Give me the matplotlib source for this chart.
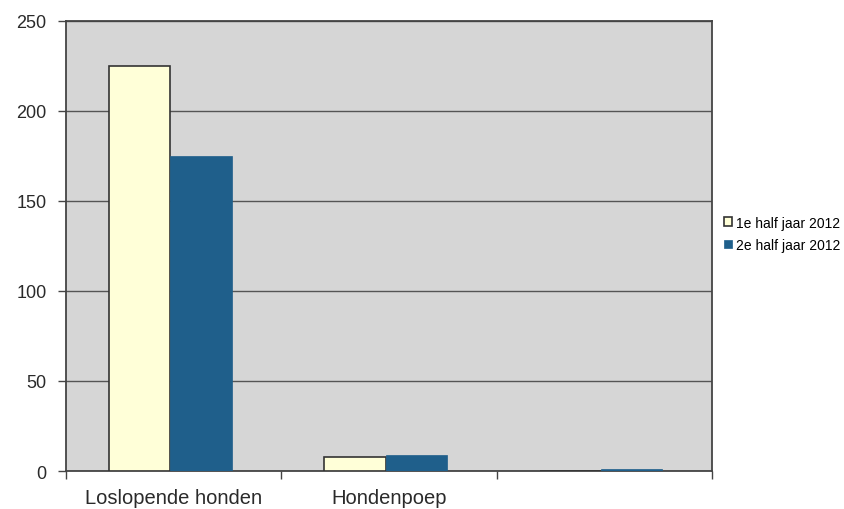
import matplotlib
matplotlib.use("Agg")
import matplotlib.pyplot as plt
import numpy as np

categories = ["Loslopende honden", "Hondenpoep", ""]
series_names = ["1e half jaar 2012", "2e half jaar 2012"]
values_h1 = [225, 8, 0]
values_h2 = [175, 9, 1]
y_ticks = [0, 50, 100, 150, 200, 250]

plt.rcParams['font.family'] = ['Liberation Sans', 'DejaVu Sans']

fig = plt.figure(figsize=(8.44, 5.10), dpi=100)
ax = fig.add_axes([0.078, 0.0745, 0.7656, 0.8825])
ax.set_facecolor("#d6d6d6")

x = np.arange(len(categories))
w = 0.285
off = -0.015
ax.bar(x + off - w/2, values_h1, width=w, color="#ffffd8", edgecolor="#333333", linewidth=1.2, zorder=3, label=series_names[0])
ax.bar(x + off + w/2, values_h2, width=w, color="#1f5f8b", edgecolor="#1f5f8b", linewidth=0.5, zorder=3, label=series_names[1])

ax.set_xlim(-0.5, len(categories) - 0.5)
ax.set_ylim(0, 250)
ax.set_yticks(y_ticks)
ax.set_yticklabels([str(t) for t in y_ticks], fontsize=13, color="#2a2a2a")
ax.yaxis.grid(True, color="#555555", linewidth=1.0, zorder=1)

ax.set_xticks(x)
ax.set_xticklabels(categories, fontsize=14.5, color="#2a2a2a")
ax.tick_params(axis='x', length=0, pad=12)
ax.set_xticks(np.arange(len(categories) + 1) - 0.5, minor=True)
ax.tick_params(axis='x', which='minor', length=6, color="#444444", width=1)
ax.tick_params(axis='y', length=6, color="#444444", width=1, pad=8)

for s in ax.spines.values():
    s.set_color("#444444")
    s.set_linewidth(1.3)

leg = fig.legend(loc="upper left", bbox_to_anchor=(0.843, 0.6), frameon=False,
                 fontsize=10, handlelength=0.6, handleheight=0.6, handletextpad=0.3,
                 labelspacing=0.6)

fig.savefig("out.png", dpi=100, facecolor="white")
